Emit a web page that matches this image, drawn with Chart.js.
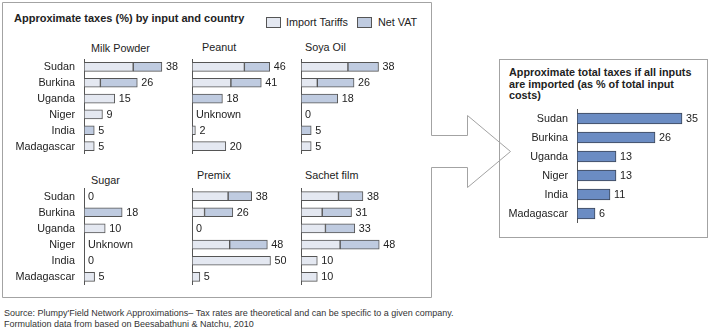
<!DOCTYPE html>
<html>
<head>
<meta charset="utf-8">
<script src="https://cdn.jsdelivr.net/npm/chart.js@4.4.0/dist/chart.umd.min.js"></script>
<style>
  body { margin: 0; background: #fff; width: 709px; height: 332px; overflow: hidden; position: relative;
         font-family: 'Liberation Sans', Arial, sans-serif; color: #222; }
  .t { position: absolute; white-space: nowrap; font-size: 10.8px; line-height: 13px; }
  .b { font-weight: bold; }
  .src { font-size: 9px; line-height: 11px; color: #333; }
  .sw { position: absolute; width: 13px; height: 9px; border: 1px solid #555; }
  canvas { position: absolute; }
</style>
</head>
<body>
<svg width="709" height="332" style="position:absolute;left:0;top:0">
  <path d="M431.5 135.5 V2.5 H2.5 V297.5 H431.5 V167.5" fill="none" stroke="#a3a3a3"/>
  <rect x="499.5" y="59.5" width="208" height="178" fill="none" stroke="#a3a3a3"/>
  <path d="M431.5 135.5 H467.5 V115.5 L510.5 151.5 L467.5 187.5 V167.5 H431.5" fill="none" stroke="#a3a3a3"/>
</svg>

<div class="t b" style="left:14px;top:12px;font-size:11px">Approximate taxes (%) by input and country</div>
<div class="sw" style="left:266px;top:17px;background:#e4e8f1"></div>
<div class="t" style="left:286px;top:16px">Import Tariffs</div>
<div class="sw" style="left:357px;top:17px;background:#bfcbe0"></div>
<div class="t" style="left:378px;top:16px">Net VAT</div>

<div class="t" style="left:91px;top:42px">Milk Powder</div>
<div class="t" style="left:202px;top:41px">Peanut</div>
<div class="t" style="left:305px;top:41px">Soya Oil</div>
<div class="t" style="left:91px;top:174px">Sugar</div>
<div class="t" style="left:197px;top:169px">Premix</div>
<div class="t" style="left:305px;top:169px">Sachet film</div>

<div class="t b" style="left:509px;top:67px;line-height:11.7px">Approximate total taxes if all inputs<br>are imported (as % of total input<br>costs)</div>

<div class="t src" style="left:4px;top:308px">Source: Plumpy'Field Network Approximations– Tax rates are theoretical and can be specific to a given company.</div>
<div class="t src" style="left:4px;top:319px">Formulation data from based on Beesabathuni &amp; Natchu, 2010</div>

<canvas id="milk" width="190" height="95" style="left:0px;top:59px"></canvas>
<canvas id="peanut" width="110" height="95" style="left:186px;top:59px"></canvas>
<canvas id="soya" width="110" height="95" style="left:295px;top:59px"></canvas>
<canvas id="sugar" width="190" height="97" style="left:0px;top:188px"></canvas>
<canvas id="premix" width="110" height="97" style="left:186px;top:188px"></canvas>
<canvas id="sachet" width="110" height="97" style="left:295px;top:188px"></canvas>
<canvas id="total" width="200" height="114" style="left:505px;top:109px"></canvas>

<script>
const countries = ['Sudan', 'Burkina', 'Uganda', 'Niger', 'India', 'Madagascar'];

// null = "Unknown"
const milkImport   = [24, 8, 15, 9, 0, 5];
const milkVat      = [14, 18, 0, 0, 5, 0];
const peanutImport = [31, 23, 0, null, 2, 20];
const peanutVat    = [15, 18, 18, null, 0, 0];
const soyaImport   = [23, 8, 0, 0, 0, 5];
const soyaVat      = [15, 18, 18, 0, 5, 0];
const sugarImport  = [0, 0, 10, null, 0, 5];
const sugarVat     = [0, 18, 0, null, 0, 0];
const premixImport = [23, 8, 0, 24, 50, 5];
const premixVat    = [15, 18, 0, 24, 0, 0];
const sachetImport = [23, 13, 15, 24, 10, 10];
const sachetVat    = [15, 18, 18, 24, 0, 0];
const totalTaxes   = [35, 26, 13, 13, 11, 6];

const FONT = "'Liberation Sans', Arial, sans-serif";
Chart.defaults.font.family = FONT;
Chart.defaults.font.size = 10.8;
Chart.defaults.color = '#222';

// country names left of the axis, value at the end of each bar ("Unknown" where no data)
function barLabels(totals, showNames) {
  return {
    id: 'barLabels',
    afterDatasetsDraw(chart) {
      const { ctx, chartArea, scales: { x, y } } = chart;
      ctx.save();
      ctx.font = '10.8px ' + FONT;
      ctx.fillStyle = '#222';
      ctx.textBaseline = 'middle';
      totals.forEach((v, i) => {
        const yy = y.getPixelForValue(i) + 0.5;
        if (showNames) {
          ctx.textAlign = 'right';
          ctx.fillText(chart.data.labels[i], chartArea.left - 9, yy);
        }
        ctx.textAlign = 'left';
        const txt = v === null ? 'Unknown' : String(v);
        ctx.fillText(txt, x.getPixelForValue(v === null ? 0 : v) + 4, yy);
      });
      ctx.restore();
    }
  };
}

const nz = arr => arr.map(v => (v ? v : null));

function baseOptions(axisWidth, xMax) {
  return {
    responsive: false,
    devicePixelRatio: 1,
    animation: false,
    layout: { padding: 0 },
    plugins: { legend: { display: false }, title: { display: false }, tooltip: { enabled: false } },
    indexAxis: 'y',
    scales: {
      x: { display: false, stacked: true, min: 0, max: xMax },
      y: {
        stacked: true,
        grid: { display: false, drawTicks: false },
        border: { display: true, color: '#555', width: 1 },
        ticks: { display: false },
        afterFit(scale) { scale.width = axisWidth; }
      }
    }
  };
}

function panel(id, imp, vat, pxPerUnit, axisWidth, showNames) {
  const canvas = document.getElementById(id);
  const totals = imp.map((v, i) => (v === null ? null : v + vat[i]));
  new Chart(canvas, {
    type: 'bar',
    data: {
      labels: countries,
      datasets: [
        { label: 'Import Tariffs', data: nz(imp), backgroundColor: '#e4e8f1', borderColor: '#555',
          borderWidth: 1, borderSkipped: false, barThickness: 9 },
        { label: 'Net VAT', data: nz(vat), backgroundColor: '#bfcbe0', borderColor: '#555',
          borderWidth: 1, borderSkipped: false, barThickness: 9 }
      ]
    },
    options: baseOptions(axisWidth, (canvas.width - axisWidth) / pxPerUnit),
    plugins: [barLabels(totals, showNames)]
  });
}

panel('milk', milkImport, milkVat, 2.05, 84, true);
panel('peanut', peanutImport, peanutVat, 1.69, 6, false);
panel('soya', soyaImport, soyaVat, 2.04, 6, false);
panel('sugar', sugarImport, sugarVat, 2.12, 84, true);
panel('premix', premixImport, premixVat, 1.57, 6, false);
panel('sachet', sachetImport, sachetVat, 1.63, 6, false);

const totalCanvas = document.getElementById('total');
new Chart(totalCanvas, {
  type: 'bar',
  data: {
    labels: countries,
    datasets: [
      { label: 'Total', data: totalTaxes, backgroundColor: '#6b8cc3', borderColor: '#3c4658',
        borderWidth: 1, borderSkipped: false, barThickness: 11 }
    ]
  },
  options: baseOptions(72, (totalCanvas.width - 72) / 3.0),
  plugins: [barLabels(totalTaxes, true)]
});
</script>
</body>
</html>
